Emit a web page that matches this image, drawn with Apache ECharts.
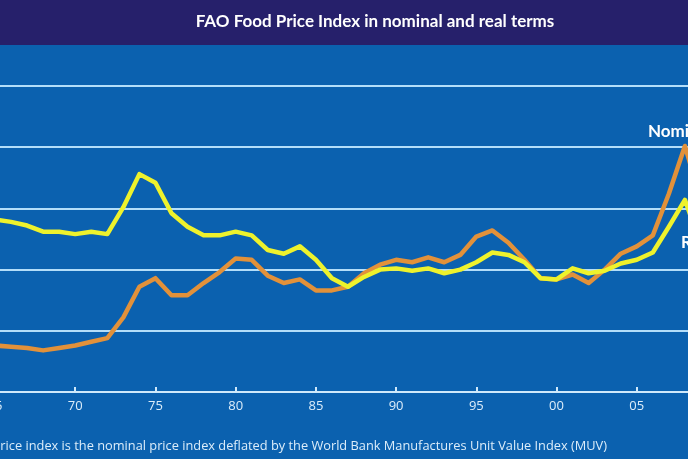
<!DOCTYPE html>
<html>
<head>
<meta charset="utf-8">
<script src="https://cdn.jsdelivr.net/npm/echarts@6/dist/echarts.min.js"></script>
<style>html,body{margin:0;padding:0;background:#0b61af;}#c{width:688px;height:459px;}</style>
</head>
<body>
<div id="c"></div>
<script>
var years = [1965,1966,1967,1968,1969,1970,1971,1972,1973,1974,1975,1976,1977,1978,1979,1980,1981,1982,1983,1984,1985,1986,1987,1988,1989,1990,1991,1992,1993,1994,1995,1996,1997,1998,1999,2000,2001,2002,2003,2004,2005,2006,2007,2008,2009];
var nominal = [38,37,36,34,36,38,41,44,61,86,93,79,79,89,98,109,108,95,89,92,83,83,86,97,104,108,106,110,106,112,127,132,122,108,93,92,96,89,100,113,119,128,162,201,157];
var real = [141,139,136,131,131,129,131,129,151,178,171,146,135,128,128,131,128,116,113,119,108,93,86,94,100,101,99,101,97,100,106,114,112,106,93,92,101,97,99,105,108,114,135,157,120];
var yTicks = [0,50,100,150,200,250];
var titleText = 'FAO Food Price Index in nominal and real terms';
var noteText = 'The real price index is the nominal price index deflated by the World Bank Manufactures Unit Value Index (MUV)';
var seriesNames = ['Nominal','Real'];

function pairs(vals){ return years.map(function(y,i){ return [y, vals[i]]; }); }

var chart = echarts.init(document.getElementById('c'));
chart.setOption({
  backgroundColor: '#0b61af',
  animation: false,
  grid: { left: -5, right: -29, top: 86, bottom: 67, outerBoundsMode: 'none' },
  xAxis: {
    type: 'value', min: 1965, max: 2010, interval: 5,
    axisLine: { show: true, lineStyle: { color: '#cfe9fb', width: 2 } },
    axisTick: { show: true, inside: true, length: 5, lineStyle: { color: '#cfe9fb', width: 2 } },
    splitLine: { show: false },
    axisLabel: {
      color: '#dcedfa', fontSize: 13, fontFamily: 'Open Sans', margin: 8,
      formatter: function(v){ var s = String(v % 100); return s.length < 2 ? '0' + s : s; }
    }
  },
  yAxis: {
    type: 'value', min: yTicks[0], max: yTicks[yTicks.length-1], interval: 50,
    axisLine: { show: false }, axisTick: { show: false }, axisLabel: { show: false },
    splitLine: { show: true, lineStyle: { color: '#b3defa', width: 2 } }
  },
  series: [
    { name: seriesNames[0], type: 'line', data: pairs(nominal), symbol: 'none', clip: false,
      lineStyle: { color: '#e2913a', width: 4.5, join: 'round' } },
    { name: seriesNames[1], type: 'line', data: pairs(real), symbol: 'none', clip: false,
      lineStyle: { color: '#eef22c', width: 4.5, join: 'round' } }
  ],
  graphic: [
    { type: 'rect', shape: { x: 0, y: 0, width: 688, height: 45 }, style: { fill: '#26206b' }, z: 10 },
    { type: 'text', x: 375, y: 22, z: 11, style: { text: titleText, fill: '#ffffff', font: 'bold 17px Lato', textAlign: 'center', textVerticalAlign: 'middle' } },
    { type: 'text', x: 648, y: 132, z: 11, style: { text: seriesNames[0], fill: '#ffffff', font: 'bold 17px Lato', textAlign: 'left', textVerticalAlign: 'middle' } },
    { type: 'text', x: 681, y: 243, z: 11, style: { text: seriesNames[1], fill: '#ffffff', font: 'bold 17px Lato', textAlign: 'left', textVerticalAlign: 'middle' } },
    { type: 'text', x: 607, y: 446, z: 11, style: { text: noteText, fill: '#dcedfa', font: '12.8px "Open Sans"', textAlign: 'right', textVerticalAlign: 'middle' } }
  ]
});
</script>
</body>
</html>
